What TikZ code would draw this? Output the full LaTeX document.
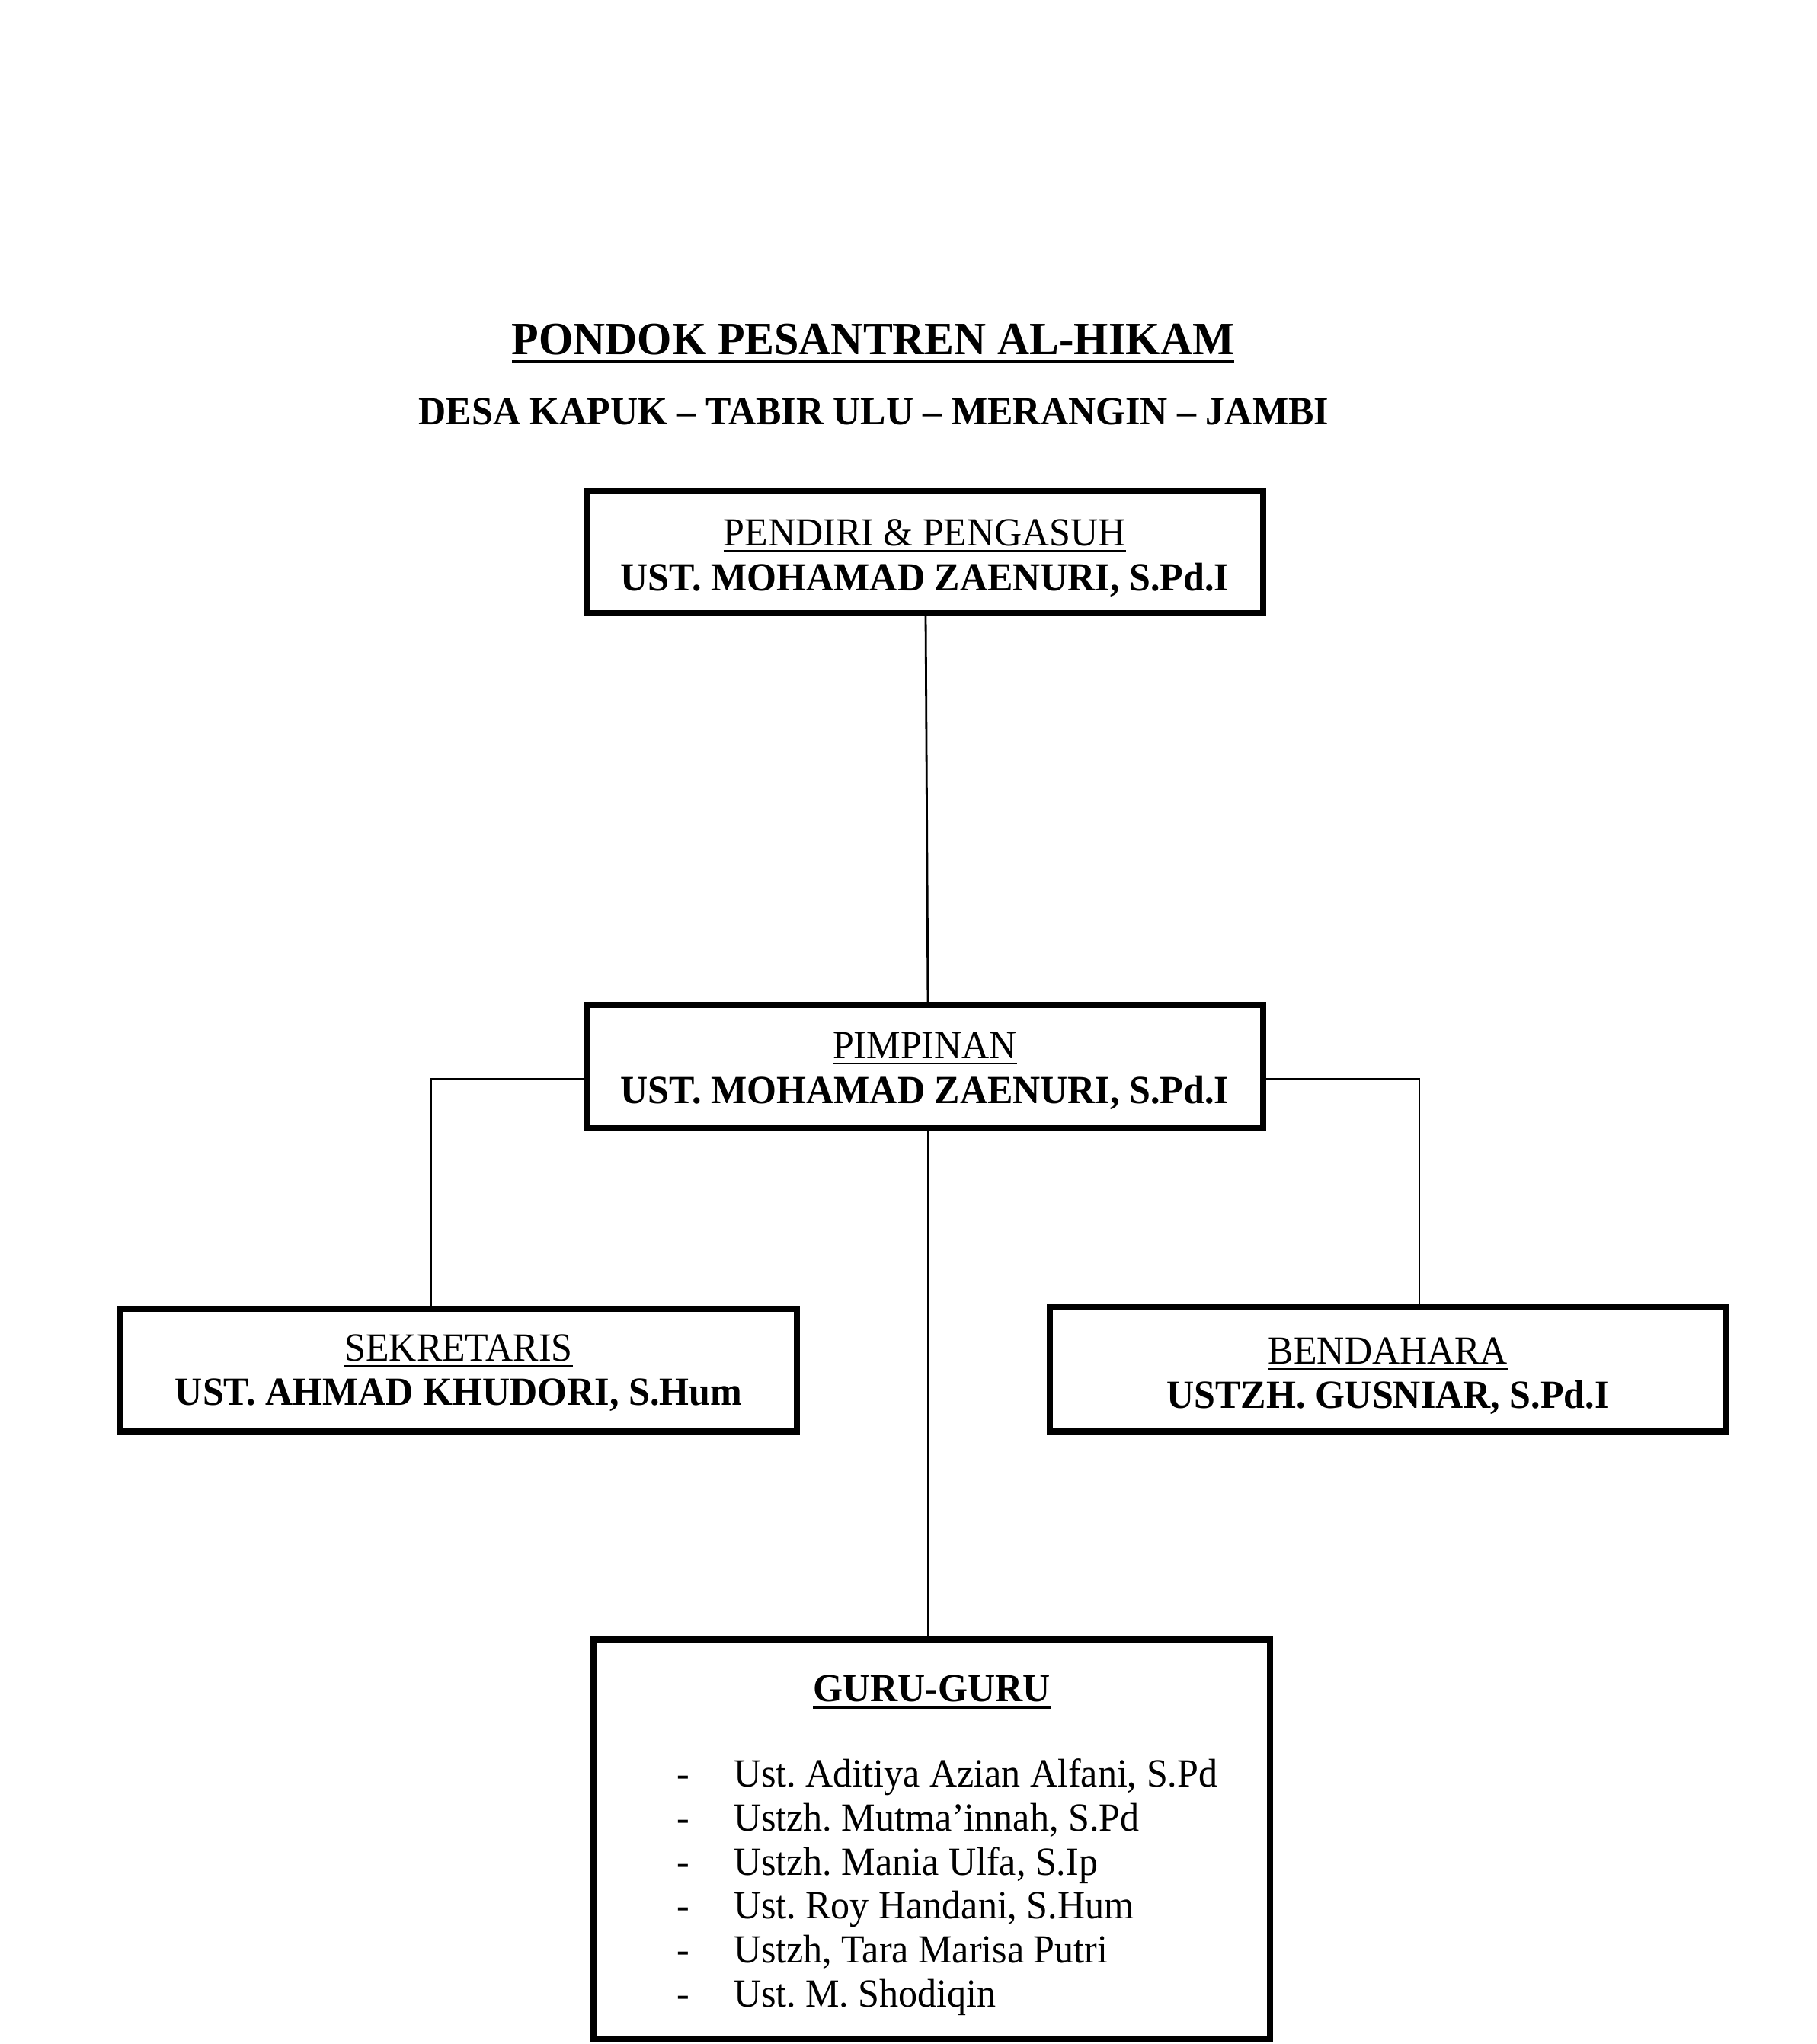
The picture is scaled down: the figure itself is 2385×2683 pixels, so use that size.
\documentclass[tikz,border=0pt]{standalone}
\usepackage{fontspec}
\setmainfont{Liberation Serif}[FakeStretch=0.955]
\frenchspacing
\newcommand\myul[2]{\setbox0=\hbox{#2}\rlap{\rule[\dimexpr-0.109em-#1\relax]{\wd0}{#1}}\box0}
\tikzset{
  box/.style={draw=black, line width=8pt, rectangle, minimum width=888pt, inner sep=0pt, outer sep=0pt},
  txt/.style={anchor=base, inner sep=0pt, outer sep=0pt, font=\fontsize{52.4}{60}\selectfont},
  boldtxt/.style={anchor=base, inner sep=0pt, outer sep=0pt, font=\fontsize{52.4}{60}\selectfont\bfseries},
  conn/.style={line width=2.8pt, draw=black},
}
\begin{document}
\begin{tikzpicture}[x=1pt,y=-1pt]
\useasboundingbox[fill=white] (0,0) rectangle (2385,2683);

% titles
\node[boldtxt, font=\fontsize{61}{68}\selectfont\bfseries] (title) at (1146,465) {\myul{0.09em}{PONDOK PESANTREN AL-HIKAM}};
\node[boldtxt] (subtitle) at (1147,557) {DESA KAPUK – TABIR ULU – MERANGIN – JAMBI};

% boxes
\node[box, minimum height=160pt] (b1) at (1214,725) {};
\node[box, minimum height=162pt] (b2) at (1214,1400) {};
\node[box, minimum height=161pt] (sek) at (602,1798.5) {};
\node[box, minimum height=163pt] (bend) at (1822,1797.5) {};
\node[box, minimum height=525pt] (guru) at (1223,2414.5) {};

% box texts
\node[txt] (b1l) at (1214,716) {\myul{0.047em}{PENDIRI \& PENGASUH}};
\node[boldtxt] (b1n) at (1214,775) {UST. MOHAMAD ZAENURI, S.Pd.I};
\node[txt] (b2l) at (1214,1389) {\myul{0.047em}{PIMPINAN}};
\node[boldtxt] (b2n) at (1214,1448) {UST. MOHAMAD ZAENURI, S.Pd.I};
\node[txt] (sekl) at (602,1786) {\myul{0.047em}{SEKRETARIS}};
\node[boldtxt] (sekn) at (602,1844) {UST. AHMAD KHUDORI, S.Hum};
\node[txt] (bendl) at (1822,1790) {\myul{0.047em}{BENDAHARA}};
\node[boldtxt] (bendn) at (1822,1848) {USTZH. GUSNIAR, S.Pd.I};
\node[boldtxt] (gurut) at (1223,2233) {\myul{0.09em}{GURU-GURU}};

% list
\node[txt, anchor=base west] (d1) at (888,2345) {-};
\node[txt, anchor=base west] (g1) at (963,2345) {Ust. Aditiya Azian Alfani, S.Pd};
\node[txt, anchor=base west] (d2) at (888,2403) {-};
\node[txt, anchor=base west] (g2) at (963,2403) {Ustzh. Mutma’innah, S.Pd};
\node[txt, anchor=base west] (d3) at (888,2461) {-};
\node[txt, anchor=base west] (g3) at (963,2461) {Ustzh. Mania Ulfa, S.Ip};
\node[txt, anchor=base west] (d4) at (888,2518) {-};
\node[txt, anchor=base west] (g4) at (963,2518) {Ust. Roy Handani, S.Hum};
\node[txt, anchor=base west] (d5) at (888,2576) {-};
\node[txt, anchor=base west] (g5) at (963,2576) {Ustzh, Tara Marisa Putri};
\node[txt, anchor=base west] (d6) at (888,2634) {-};
\node[txt, anchor=base west] (g6) at (963,2634) {Ust. M. Shodiqin};

% connectors
\coordinate (lk) at (566,1416);
\coordinate (rk) at (1863,1416);
\draw[conn] ([xshift=1pt]b1.south) -- ([xshift=4pt]b2.north);
\draw[conn] (b2.west |- lk) -- (lk) -- (lk |- sek.north);
\draw[conn] (b2.east |- rk) -- (rk) -- (rk |- bend.north);
\draw[conn] ([xshift=4pt]b2.south) -- ([xshift=4pt]b2.south |- guru.north);
\end{tikzpicture}
\end{document}
